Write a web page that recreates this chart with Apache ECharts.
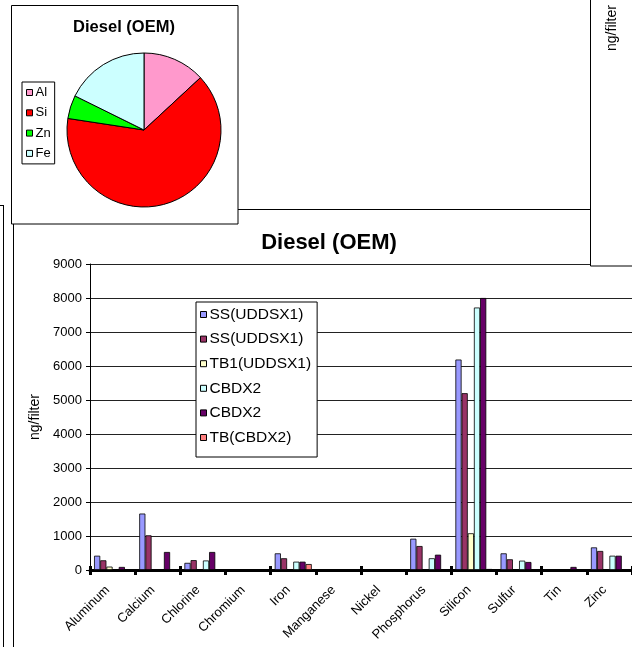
<!DOCTYPE html>
<html>
<head>
<meta charset="utf-8">
<script src="https://cdn.jsdelivr.net/npm/echarts@6/dist/echarts.min.js"></script>
<style>html,body{margin:0;padding:0;background:#fff}#c{width:632px;height:647px}</style>
</head>
<body>
<div id="c"></div>
<script>
const pieNames = ['Al', 'Si', 'Zn', 'Fe'];
const pieValues = [13.1, 64.3, 4.9, 17.7];
const pieColors = ['#FF99CC', '#FF0000', '#00FF00', '#CCFFFF'];

const categories = ['Aluminum', 'Calcium', 'Chlorine', 'Chromium', 'Iron', 'Manganese', 'Nickel', 'Phosphorus', 'Silicon', 'Sulfur', 'Tin', 'Zinc'];
const seriesNames = ['SS(UDDSX1)', 'SS(UDDSX1)', 'TB1(UDDSX1)', 'CBDX2', 'CBDX2', 'TB(CBDX2)'];
const seriesColors = ['#9999FF', '#993366', '#FFFFCC', '#CCFFFF', '#660066', '#FF8080'];
const ss1 = [420, 1660, 210, 15, 490, 10, 5, 920, 6190, 490, 0, 665];
const ss2 = [285, 1020, 290, 10, 345, 20, 15, 705, 5200, 315, 0, 560];
const tb1 = [100, 0, 0, 0, 0, 0, 0, 0, 1080, 0, 0, 0];
const cbdx2a = [0, 0, 280, 0, 245, 0, 0, 345, 7720, 275, 0, 420];
const cbdx2b = [90, 530, 530, 0, 245, 0, 0, 450, 8000, 235, 90, 420];
const tbc = [0, 0, 0, 0, 175, 0, 0, 0, 30, 0, 0, 0];
const seriesValues = [ss1, ss2, tb1, cbdx2a, cbdx2b, tbc];

const FONT = "'Liberation Sans', Arial, sans-serif";
const chart = echarts.init(document.getElementById('c'));

const barSeries = seriesValues.map((vals, i) => ({
  type: 'bar',
  name: seriesNames[i] + '#' + i,
  data: vals,
  xAxisIndex: 0,
  yAxisIndex: 0,
  barGap: '0%',
  barCategoryGap: '18%',
  itemStyle: { color: seriesColors[i], borderColor: '#000', borderWidth: 0.8 },
  emphasis: { disabled: true },
  animation: false
}));

chart.setOption({
  animation: false,
  backgroundColor: '#fff',
  textStyle: { fontFamily: FONT },
  grid: { left: 90, right: -3, top: 264, bottom: 77, containLabel: false },
  xAxis: [{
    type: 'category',
    data: categories,
    boundaryGap: true,
    axisLine: { lineStyle: { color: '#000', width: 3 } },
    axisTick: { show: true, length: 5, lineStyle: { color: '#000', width: 3 } },
    axisLabel: { rotate: 45, interval: 0, fontSize: 13, color: '#000', margin: 13, padding: [0, 7, 0, 0], fontFamily: FONT, hideOverlap: false },
    splitLine: { show: false }
  }, {
    type: 'category',
    data: categories,
    position: 'bottom',
    boundaryGap: true,
    axisLine: { show: false },
    axisTick: { show: true, inside: true, length: 4, lineStyle: { color: '#000', width: 3 } },
    axisLabel: { show: false },
    splitLine: { show: false }
  }],
  yAxis: [{
    type: 'value',
    min: 0, max: 9000, interval: 1000,
    name: 'ng/filter',
    nameLocation: 'middle',
    nameGap: 45,
    nameTextStyle: { fontSize: 14, color: '#000', fontFamily: FONT },
    axisLine: { show: true, lineStyle: { color: '#000', width: 1 } },
    axisTick: { show: true, length: 4, lineStyle: { color: '#000', width: 1 } },
    axisLabel: { fontSize: 13, color: '#000', margin: 8, fontFamily: FONT, formatter: v => String(v) },
    splitLine: { show: true, lineStyle: { color: '#222', width: 1 } }
  }],
  legend: [{
    data: pieNames,
    orient: 'vertical',
    left: 22, top: 82,
    padding: [4, 4, 4, 4],
    itemWidth: 6, itemHeight: 6, itemGap: 7.3,
    icon: 'rect',
    itemStyle: { borderColor: '#000', borderWidth: 1 },
    textStyle: { fontSize: 13, lineHeight: 13, color: '#000', fontFamily: FONT, padding: [0, 0, 0, -2] },
    borderColor: '#000', borderWidth: 1,
    backgroundColor: '#fff',
    selectedMode: false
  }, {
    data: barSeries.map(s => s.name),
    orient: 'vertical',
    left: 196, top: 302,
    padding: [4.5, 6, 11.5, 4],
    itemWidth: 6, itemHeight: 6, itemGap: 8.6,
    icon: 'rect',
    itemStyle: { borderColor: '#000', borderWidth: 1 },
    formatter: n => n.split('#')[0],
    textStyle: { fontSize: 15.5, lineHeight: 15, color: '#000', fontFamily: FONT, padding: [0, 0, 0, -2] },
    borderColor: '#000', borderWidth: 1,
    backgroundColor: '#fff',
    selectedMode: false,
    z: 5
  }],
  graphic: [
    { type: 'line', shape: { x1: 3.5, y1: 205, x2: 3.5, y2: 647 }, style: { stroke: '#000', lineWidth: 1 }, z: 0 },
    { type: 'line', shape: { x1: 0, y1: 205.5, x2: 3.5, y2: 205.5 }, style: { stroke: '#000', lineWidth: 1 }, z: 0 },
    { type: 'line', shape: { x1: 13.5, y1: 224, x2: 13.5, y2: 647 }, style: { stroke: '#000', lineWidth: 1 }, z: 0 },
    { type: 'line', shape: { x1: 238, y1: 209.5, x2: 590, y2: 209.5 }, style: { stroke: '#000', lineWidth: 1 }, z: 0 },
    { type: 'rect', shape: { x: 11.5, y: 5.5, width: 226.5, height: 218.5 }, style: { fill: '#fff', stroke: '#000', lineWidth: 1 }, z: 0 },
    { type: 'rect', shape: { x: 590.5, y: -2, width: 50, height: 268 }, style: { fill: '#fff', stroke: '#000', lineWidth: 1 }, z: 10 },
    { type: 'text', x: 612, y: 28, rotation: Math.PI / 2, style: { text: 'ng/filter', fill: '#000', font: '14px ' + FONT, textAlign: 'center', textVerticalAlign: 'middle' }, z: 11 },
    { type: 'text', x: 124, y: 27, style: { text: 'Diesel (OEM)', fill: '#000', font: 'bold 16.5px ' + FONT, textAlign: 'center', textVerticalAlign: 'middle' }, z: 11 },
    { type: 'text', x: 329, y: 243, style: { text: 'Diesel (OEM)', fill: '#000', font: 'bold 22px ' + FONT, textAlign: 'center', textVerticalAlign: 'middle' }, z: 11 }
  ],
  series: [{
    type: 'pie',
    center: [144, 130],
    radius: 77,
    startAngle: 90,
    clockwise: true,
    label: { show: false },
    labelLine: { show: false },
    emphasis: { disabled: true },
    itemStyle: { borderColor: '#000', borderWidth: 1 },
    z: 3,
    data: pieNames.map((n, i) => ({ name: n, value: pieValues[i], itemStyle: { color: pieColors[i] } }))
  }].concat(barSeries)
});
</script>
</body>
</html>
